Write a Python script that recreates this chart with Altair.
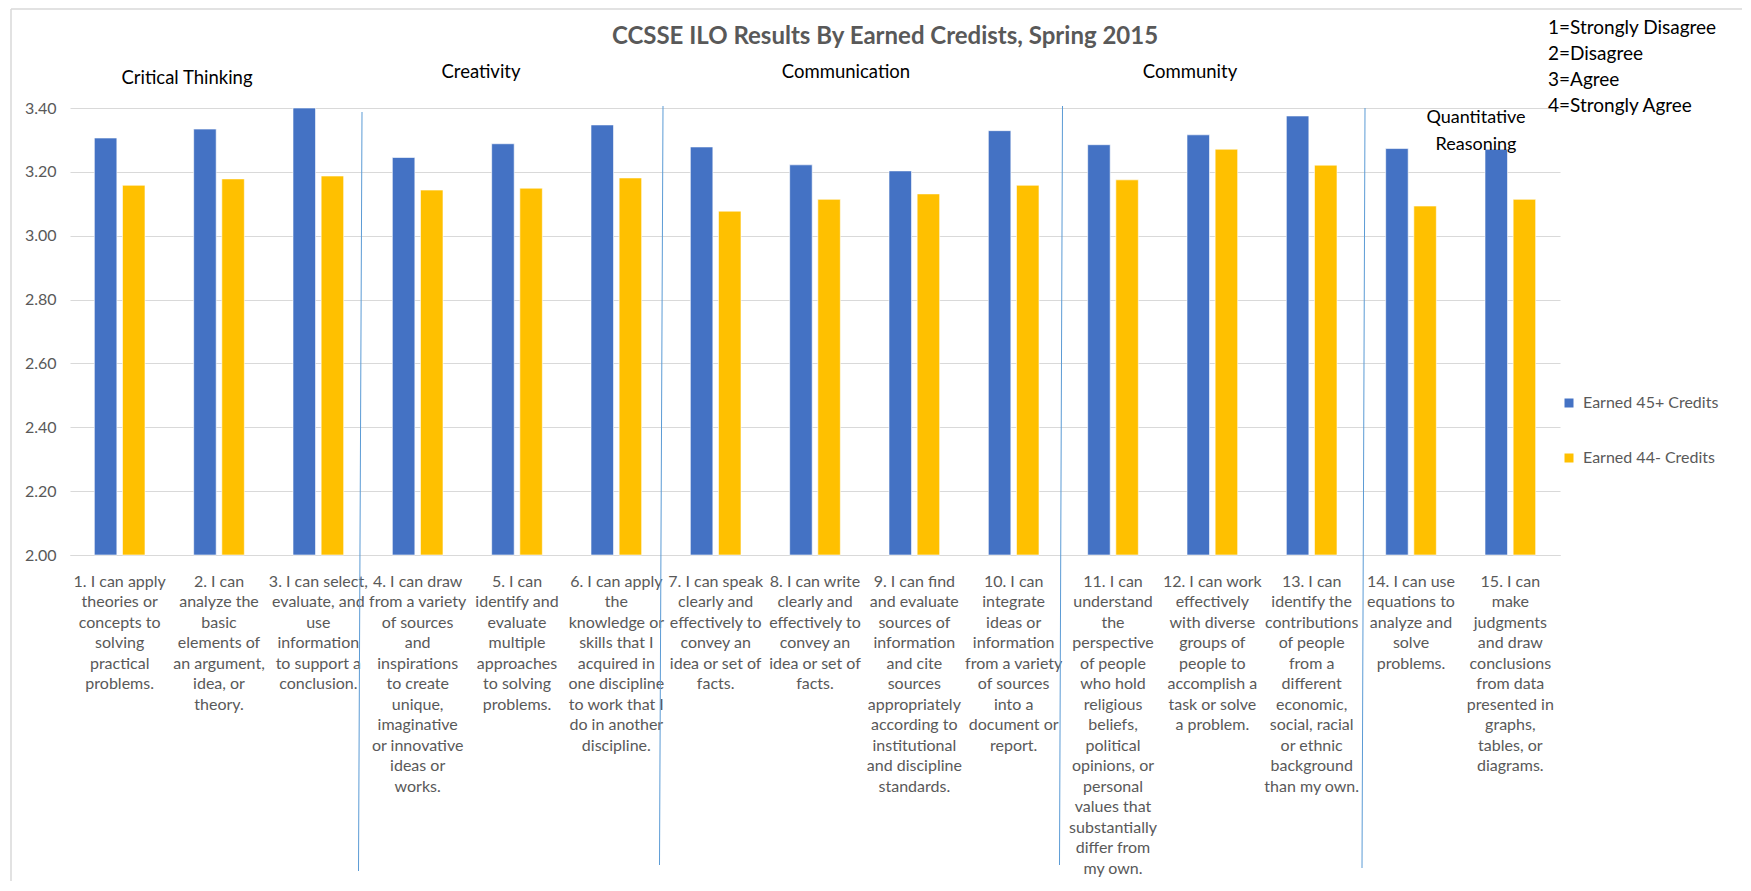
import altair as alt
import pandas as pd

# ---------------- data ----------------
labels = [
    "1. I can apply|theories or|concepts to|solving|practical|problems.",
    "2. I can|analyze the|basic|elements of|an argument,|idea, or|theory.",
    "3. I can select,|evaluate, and|use|information|to support a|conclusion.",
    "4. I can draw|from a variety|of sources|and|inspirations|to create|unique,|imaginative|or innovative|ideas or|works.",
    "5. I can|identify and|evaluate|multiple|approaches|to solving|problems.",
    "6. I can apply|the|knowledge or|skills that I|acquired in|one discipline|to work that I|do in another|discipline.",
    "7. I can speak|clearly and|effectively to|convey an|idea or set of|facts.",
    "8. I can write|clearly and|effectively to|convey an|idea or set of|facts.",
    "9. I can find|and evaluate|sources of|information|and cite|sources|appropriately|according to|institutional|and discipline|standards.",
    "10. I can|integrate|ideas or|information|from a variety|of sources|into a|document or|report.",
    "11. I can|understand|the|perspective|of people|who hold|religious|beliefs,|political|opinions, or|personal|values that|substantially|differ from|my own.",
    "12. I can work|effectively|with diverse|groups of|people to|accomplish a|task or solve|a problem.",
    "13. I can|identify the|contributions|of people|from a|different|economic,|social, racial|or ethnic|background|than my own.",
    "14. I can use|equations to|analyze and|solve|problems.",
    "15. I can|make|judgments|and draw|conclusions|from data|presented in|graphs,|tables, or|diagrams.",
]
series = ["Earned 45+ Credits", "Earned 44- Credits"]
earned_45_plus = [3.306, 3.334, 3.400, 3.245, 3.288, 3.347, 3.278, 3.222, 3.203,
                  3.329, 3.285, 3.316, 3.375, 3.273, 3.271]
earned_44_minus = [3.158, 3.178, 3.187, 3.143, 3.149, 3.181, 3.077, 3.114, 3.131,
                   3.158, 3.175, 3.271, 3.221, 3.093, 3.114]
y_ticks = [2.0, 2.2, 2.4, 2.6, 2.8, 3.0, 3.2, 3.4]

title_text = "CCSSE ILO Results By Earned Credists, Spring 2015"
group_headers = ["Critical Thinking", "Creativity", "Communication", "Community"]
quant_header = ["Quantitative", "Reasoning"]
scale_notes = ["1=Strongly Disagree", "2=Disagree", "3=Agree", "4=Strongly Agree"]

rows = []
for lab, a, b in zip(labels, earned_45_plus, earned_44_minus):
    rows.append({"item": lab, "series": series[0], "value": a})
    rows.append({"item": lab, "series": series[1], "value": b})
df = pd.DataFrame(rows)

FONT = "Lato"
GRAY = "#595959"
W, H = 1490, 447

bars = alt.Chart(df).mark_bar(stroke="white", strokeWidth=0.6).encode(
    x=alt.X("item:N", sort=labels, title=None,
            scale=alt.Scale(paddingInner=0.49, paddingOuter=0.245),
            axis=alt.Axis(labelExpr="split(datum.label, '|')", labelAngle=0,
                          labelFont=FONT, labelFontSize=16, labelColor=GRAY,
                          labelLineHeight=20.5, labelPadding=18, labelLimit=0,
                          labelOverlap=False, labelBaseline="top",
                          ticks=False, domainColor="#d9d9d9", grid=False)),
    xOffset=alt.XOffset("series:N", sort=series,
                        scale=alt.Scale(paddingInner=0.2, paddingOuter=0)),
    y=alt.Y("value:Q", title=None,
            scale=alt.Scale(domain=[2.0, 3.4], zero=False, nice=False),
            axis=alt.Axis(values=y_ticks, format=".2f", labelFont=FONT,
                          labelFontSize=16, labelColor=GRAY, labelPadding=14,
                          ticks=False, domain=False, gridColor="#d9d9d9")),
    y2=alt.datum(2.0),
    color=alt.Color("series:N", sort=series,
                    scale=alt.Scale(domain=series, range=["#4472C4", "#FFC000"]),
                    legend=alt.Legend(title=None, orient="none", legendX=1491,
                                      legendY=287, symbolType="square",
                                      symbolSize=81, symbolStrokeWidth=0,
                                      labelFont=FONT, labelFontSize=16,
                                      labelColor=GRAY, rowPadding=39,
                                      labelOffset=6, padding=0)),
)


def text_at(txt, x, y, size=18, color="black", weight="normal", align="center"):
    return alt.Chart(pd.DataFrame({"t": [txt]})).mark_text(
        font=FONT, fontSize=size, color=color, fontWeight=weight,
        align=align, baseline="middle"
    ).encode(text="t:N", x=alt.value(x), y=alt.value(y))


def rule_at(x1, y1, x2, y2, color="#5B9BD5", width=1.0):
    return alt.Chart(pd.DataFrame({"k": [0]})).mark_rule(
        color=color, strokeWidth=width
    ).encode(x=alt.value(x1), x2=alt.value(x2), y=alt.value(y1), y2=alt.value(y2))


layers = [bars]
# title
layers.append(text_at(title_text, 815, -71, size=24, color=GRAY, weight="bold"))
# group headers
hdr_pos = [(117, -30), (411, -36), (776, -36), (1120, -36)]
for txt, (hx, hy) in zip(group_headers, hdr_pos):
    layers.append(text_at(txt, hx, hy, size=18.5))
layers.append(text_at(quant_header[0], 1406, 10))
layers.append(text_at(quant_header[1], 1406, 37))
# scale notes
for i, txt in enumerate(scale_notes):
    layers.append(text_at(txt, 1478, -80 + i * 26, size=19, align="left"))
# separators
seps = [(292, 4, 288.5, 763), (593, -2, 589.5, 757), (992.5, -2, 989.5, 757),
        (1295, 0, 1292, 760)]
for (a, b, c, d) in seps:
    layers.append(rule_at(a, b, c, d))
# chart border
layers.append(rule_at(-59, -99, -59, 775, color="#d9d9d9", width=1.5))
layers.append(rule_at(-59, -99, 1672, -99, color="#d9d9d9", width=1.5))

chart = alt.layer(*layers).properties(
    width=W, height=H,
    autosize=alt.AutoSizeParams(type="none"),
    padding={"left": 62, "top": 100, "right": 183, "bottom": 326},
    background="white",
).configure_view(stroke=None)

chart.save("out.html", embed_options={"renderer": "svg", "actions": False})
